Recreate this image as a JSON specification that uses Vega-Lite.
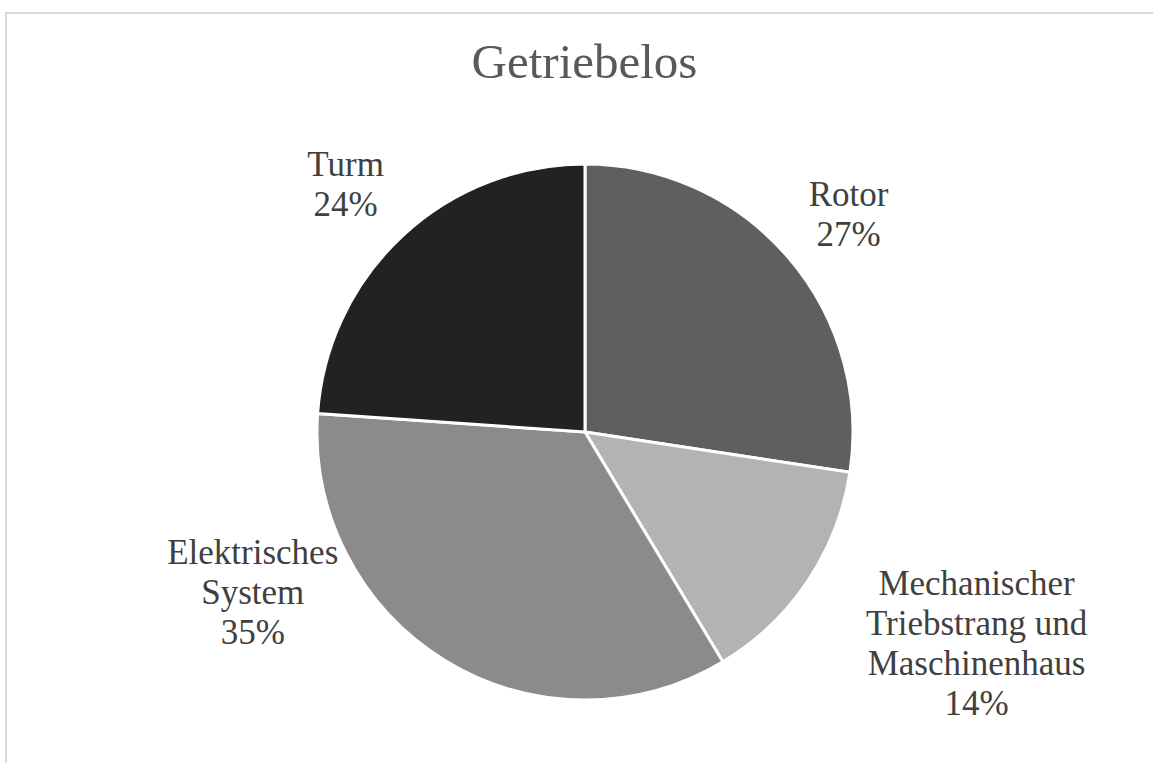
{
  "$schema": "https://vega.github.io/schema/vega-lite/v6.json",
  "autosize": {"type": "none"},
  "width": 1149,
  "height": 752,
  "padding": {"left": 6, "top": 13, "right": -2, "bottom": -2},
  "background": "white",
  "view": {"stroke": "#d9d9d9", "strokeWidth": 2},
  "title": {
    "text": "Getriebelos",
    "anchor": "middle",
    "frame": "group",
    "font": "Liberation Serif",
    "fontSize": 49,
    "fontWeight": "normal",
    "color": "#595959",
    "offset": -75,
    "dx": 4
  },
  "data": {
    "values": [
      {"teil": "Rotor", "anteil": 27.4, "idx": 1, "beschriftung": "Rotor\n27%"},
      {"teil": "Mechanischer Triebstrang und Maschinenhaus", "anteil": 14.0, "idx": 2, "beschriftung": "Mechanischer\nTriebstrang und\nMaschinenhaus\n14%"},
      {"teil": "Elektrisches System", "anteil": 34.7, "idx": 3, "beschriftung": "Elektrisches\nSystem\n35%"},
      {"teil": "Turm", "anteil": 23.9, "idx": 4, "beschriftung": "Turm\n24%"}
    ]
  },
  "encoding": {
    "theta": {"field": "anteil", "type": "quantitative", "stack": true},
    "order": {"field": "idx", "type": "quantitative"}
  },
  "layer": [
    {
      "mark": {"type": "arc", "outerRadius": 268, "stroke": "white", "strokeWidth": 3, "xOffset": 4.5, "yOffset": 43},
      "encoding": {
        "color": {
          "field": "teil",
          "type": "nominal",
          "scale": {
            "domain": ["Rotor", "Mechanischer Triebstrang und Maschinenhaus", "Elektrisches System", "Turm"],
            "range": ["#5f5f5f", "#b3b3b3", "#8b8b8b", "#222222"]
          },
          "legend": null
        }
      }
    },
    {
      "mark": {
        "type": "text",
        "radius": 345,
        "xOffset": 4.5,
        "yOffset": 43,
        "font": "Liberation Serif",
        "fontSize": 35,
        "lineHeight": 40,
        "lineBreak": "\n",
        "color": "#404040",
        "align": "center",
        "baseline": "middle",
        "dx": {"expr": "datum.teil === 'Elektrisches System' ? -152 : datum.teil === 'Mechanischer Triebstrang und Maschinenhaus' ? 105 : datum.teil === 'Turm' ? -4 : 2"},
        "dy": {"expr": "datum.teil === 'Elektrisches System' ? -173 : datum.teil === 'Mechanischer Triebstrang und Maschinenhaus' ? -40 : datum.teil === 'Turm' ? -15 : -12"}
      },
      "encoding": {"text": {"field": "beschriftung", "type": "nominal"}}
    }
  ]
}
